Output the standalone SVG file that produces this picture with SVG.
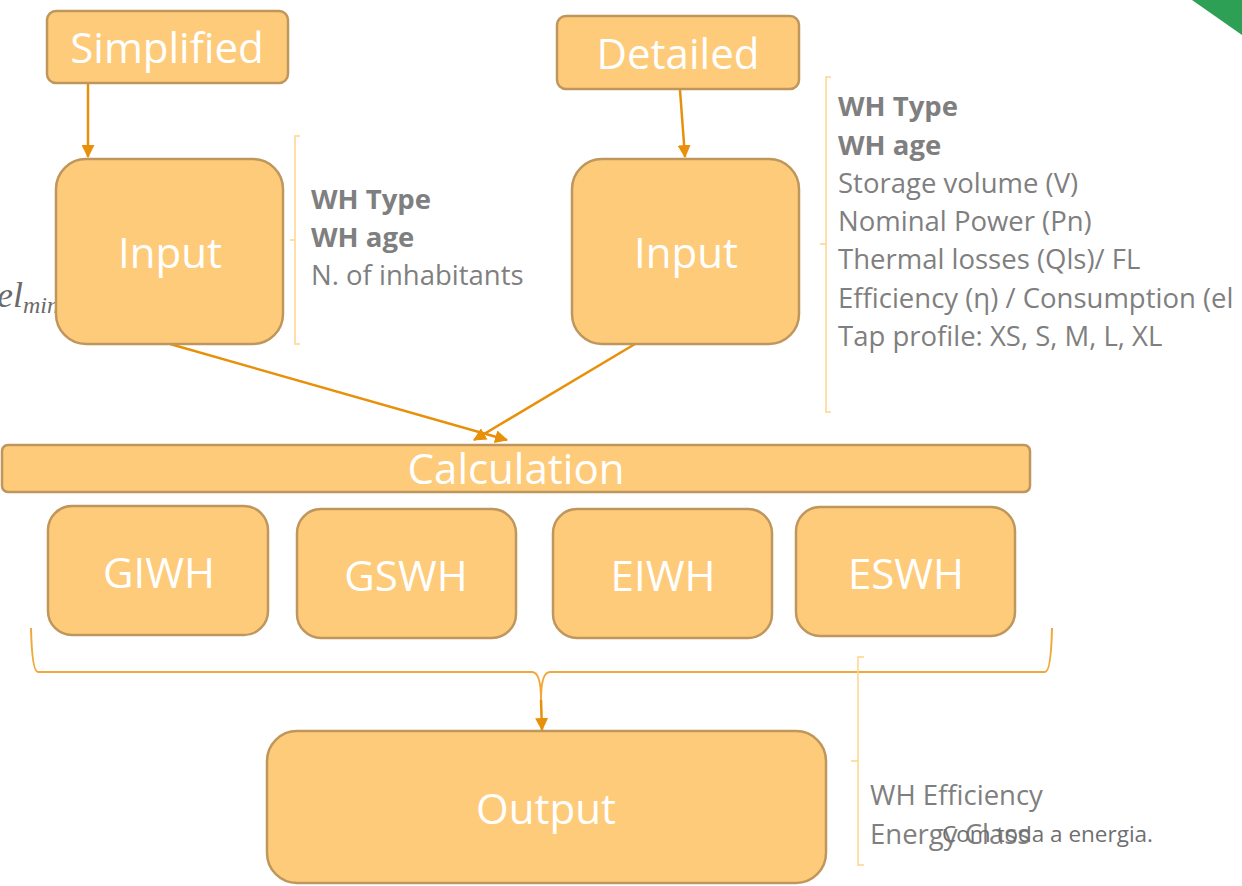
<svg xmlns="http://www.w3.org/2000/svg" width="1242" height="886" viewBox="0 0 1242 886">
<style>
.box{fill:#FECB7B;stroke:#BF965B;stroke-width:2.5}
.lbl{font-family:"Open Sans","Liberation Sans",sans-serif;fill:#FFFFFF;text-anchor:middle}
.big{font-size:42px}
.txt{font-family:"Open Sans","Liberation Sans",sans-serif;font-size:27.5px;fill:#7F7F7F}
.b{font-weight:bold}
.arrow{fill:none;stroke:#E8900A;stroke-width:2.5}
.brace{fill:none;stroke:#FFD58A;stroke-width:1.5}
.obrace{fill:none;stroke:#F0A83A;stroke-width:2}
</style>
<defs>
<marker id="ah" viewBox="0 0 12 12" refX="11" refY="6" markerWidth="13" markerHeight="13" markerUnits="userSpaceOnUse" orient="auto">
<path d="M0,0 L12,6 L0,12 Z" fill="#E8900A"/>
</marker>
</defs>
<rect width="1242" height="886" fill="#FFFFFF"/>
<polygon points="1192,0 1242,0 1242,35" fill="#2EA055"/>
<text x="-3" y="307" font-family="'Liberation Serif',serif" font-style="italic" font-size="36" fill="#6A6A6A">el<tspan font-size="24" dy="6">min</tspan></text>

<g id="connectors">
<path class="arrow" d="M88,84 L88,157" marker-end="url(#ah)"/>
<path class="arrow" d="M680,90 L685,157" marker-end="url(#ah)"/>
<path class="arrow" d="M170,344 L507,440" marker-end="url(#ah)"/>
<path class="arrow" d="M640,341 L474,440" marker-end="url(#ah)"/>
<path class="obrace" d="M31,628 Q32,672 38,672 L532,672 Q541,672 541,700 M1052,628 Q1051,672 1045,672 L550,672 Q541,672 541,700"/>
<path class="arrow" d="M541,700 L542,730" marker-end="url(#ah)"/>
</g>

<g id="brace-simplified"><path class="brace" d="M300,136 L295,136 L295,344 L300,344 M295,240 L290,240"/></g>
<g id="brace-detailed"><path class="brace" d="M831,77 L826,77 L826,412 L831,412 M826,244 L820,244"/></g>
<g id="brace-output"><path class="brace" d="M864,657 L858,657 L858,865 L864,865 M858,761 L851,761"/></g>

<g id="simplified"><rect class="box" x="47" y="11" width="241" height="72" rx="9"/><text class="lbl big" x="167" y="63">Simplified</text></g>
<g id="detailed"><rect class="box" x="557" y="16" width="242" height="73" rx="9"/><text class="lbl big" x="678" y="69">Detailed</text></g>
<g id="input-simplified"><rect class="box" x="56" y="159" width="227" height="185" rx="30"/><text class="lbl big" x="170" y="268">Input</text></g>
<g id="input-detailed"><rect class="box" x="572" y="159" width="227" height="185" rx="30"/><text class="lbl big" x="686" y="268">Input</text></g>
<g id="calculation"><rect class="box" x="2" y="445" width="1028" height="47" rx="6"/><text class="lbl big" x="516" y="484">Calculation</text></g>
<g id="giwh"><rect class="box" x="48" y="506" width="220" height="129" rx="24"/><text class="lbl big" x="159" y="588">GIWH</text></g>
<g id="gswh"><rect class="box" x="297" y="509" width="219" height="129" rx="24"/><text class="lbl big" x="406" y="591">GSWH</text></g>
<g id="eiwh"><rect class="box" x="553" y="509" width="219" height="129" rx="24"/><text class="lbl big" x="663" y="591">EIWH</text></g>
<g id="eswh"><rect class="box" x="796" y="507" width="219" height="129" rx="24"/><text class="lbl big" x="906" y="589">ESWH</text></g>
<g id="output"><rect class="box" x="267" y="731" width="559" height="152" rx="30"/><text class="lbl big" x="546" y="824">Output</text></g>

<g id="simplified-inputs">
<text class="txt b" x="311" y="209">WH Type</text>
<text class="txt b" x="311" y="247">WH age</text>
<text class="txt" x="311" y="285">N. of inhabitants</text>
</g>
<g id="detailed-inputs">
<text class="txt b" x="838" y="116">WH Type</text>
<text class="txt b" x="838" y="155">WH age</text>
<text class="txt" x="838" y="193">Storage volume (V)</text>
<text class="txt" x="838" y="231">Nominal Power (Pn)</text>
<text class="txt" x="838" y="269">Thermal losses (Qls)/ FL</text>
<text class="txt" x="838" y="308">Efficiency (η) / Consumption (el</text>
<text class="txt" x="838" y="346">Tap profile: XS, S, M, L, XL</text>
</g>
<g id="outputs">
<text class="txt" x="870" y="805">WH Efficiency</text>
<text class="txt" x="870" y="844">Energy Class</text>
<text x="942" y="842" font-family="'Open Sans','Liberation Sans',sans-serif" font-size="22.5" fill="#6F6F6F">Com toda a energia.</text>
</g>
</svg>
